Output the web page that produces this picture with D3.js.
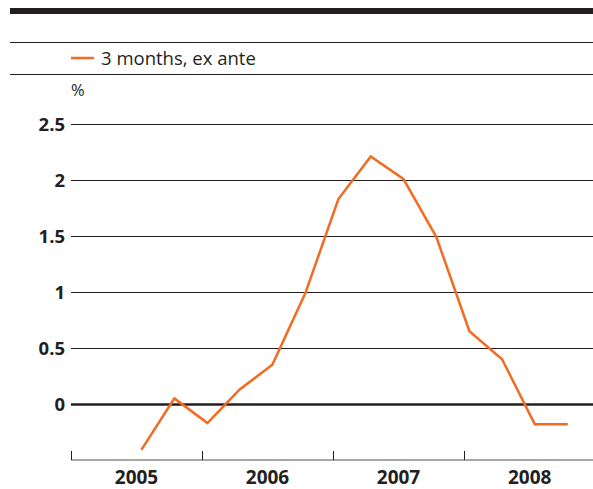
<!DOCTYPE html>
<html>
<head>
<meta charset="utf-8">
<script src="https://cdn.jsdelivr.net/npm/d3@7"></script>
<style>
  body { margin: 0; background: #fff; }
  text { font-family: "Open Sans", sans-serif; fill: #231f20; }
</style>
</head>
<body>
<div id="chart"></div>
<script>
// quarterly observations (mid-month of the quarter's first month)
var dates = ["2005-07-16", "2005-10-16", "2006-01-16", "2006-04-16", "2006-07-16",
             "2006-10-16", "2007-01-16", "2007-04-16", "2007-07-16", "2007-10-16",
             "2008-01-16", "2008-04-16", "2008-07-16", "2008-10-16"];
var values = [-0.41, 0.05, -0.17, 0.13, 0.35, 0.99, 1.83, 2.21, 2.01, 1.49, 0.65, 0.40, -0.18, -0.18];
var yTicks = [0, 0.5, 1, 1.5, 2, 2.5];
var years = [2005, 2006, 2007, 2008];
var seriesName = "3 months, ex ante";

var W = 593, H = 489;
var svg = d3.select("#chart").append("svg")
    .attr("width", W)
    .attr("height", H);

var parse = d3.timeParse("%Y-%m-%d");
var data = dates.map(function(d, i) { return {date: parse(d), value: values[i]}; });

var x = d3.scaleTime()
    .domain([new Date(2005, 0, 1), new Date(2009, 0, 1)])
    .range([71, 595.4]);

var y = d3.scaleLinear()
    .domain([0, 2.5])
    .range([404, 124]);

// header rules
svg.append("rect")
    .attr("x", 10).attr("y", 8)
    .attr("width", W - 10).attr("height", 6)
    .style("fill", "#231f20");

[42.5, 74.5].forEach(function(yy) {
  svg.append("line")
      .attr("x1", 10).attr("x2", W)
      .attr("y1", yy).attr("y2", yy)
      .style("stroke", "#231f20")
      .style("stroke-width", 1);
});

// legend
svg.append("line")
    .attr("x1", 71).attr("x2", 94)
    .attr("y1", 58).attr("y2", 58)
    .style("stroke", "#f26b21")
    .style("stroke-width", 2.5);

svg.append("text")
    .attr("x", 101)
    .attr("y", 64.5)
    .style("font-size", "18.5px")
    .text(seriesName);

svg.append("text")
    .attr("x", 71)
    .attr("y", 96)
    .style("font-size", "16.5px")
    .text("%");

// gridlines + y labels
var yAxis = svg.append("g").attr("class", "y-axis");
yAxis.selectAll("line")
    .data(yTicks)
    .enter()
    .append("line")
    .attr("x1", 71).attr("x2", W)
    .attr("y1", function(d) { return Math.round(y(d)) + 0.5; })
    .attr("y2", function(d) { return Math.round(y(d)) + 0.5; })
    .style("stroke", "#231f20")
    .style("stroke-width", function(d) { return d === 0 ? 2.5 : 1; });

yAxis.selectAll("text")
    .data(yTicks)
    .enter()
    .append("text")
    .attr("x", 65)
    .attr("y", function(d) { return y(d); })
    .attr("dy", "0.36em")
    .attr("text-anchor", "end")
    .style("font-size", "18.5px")
    .style("font-weight", "bold")
    .text(function(d) { return d; });

// x axis
var axisY = 460;
svg.append("line")
    .attr("x1", 71).attr("x2", W)
    .attr("y1", axisY).attr("y2", axisY)
    .style("stroke", "#8a8a8a")
    .style("stroke-width", 1.5);

svg.selectAll(".xtick")
    .data(years)
    .enter()
    .append("line")
    .attr("class", "xtick")
    .attr("x1", function(d) { return Math.round(x(new Date(d, 0, 1))) + 0.5; })
    .attr("x2", function(d) { return Math.round(x(new Date(d, 0, 1))) + 0.5; })
    .attr("y1", 451).attr("y2", axisY)
    .style("stroke", "#231f20")
    .style("stroke-width", 1);

svg.selectAll(".xlabel")
    .data(years)
    .enter()
    .append("text")
    .attr("class", "xlabel")
    .attr("x", function(d) { return (x(new Date(d, 0, 1)) + x(new Date(d + 1, 0, 1))) / 2; })
    .attr("y", 483.5)
    .attr("text-anchor", "middle")
    .style("font-size", "19px")
    .style("font-weight", "bold")
    .text(function(d) { return d; });

// series line
var line = d3.line()
    .x(function(d) { return x(d.date); })
    .y(function(d) { return y(d.value); });

svg.append("path")
    .datum(data)
    .attr("d", line)
    .style("fill", "none")
    .style("stroke", "#f26b21")
    .style("stroke-width", 2.5);
</script>
</body>
</html>
